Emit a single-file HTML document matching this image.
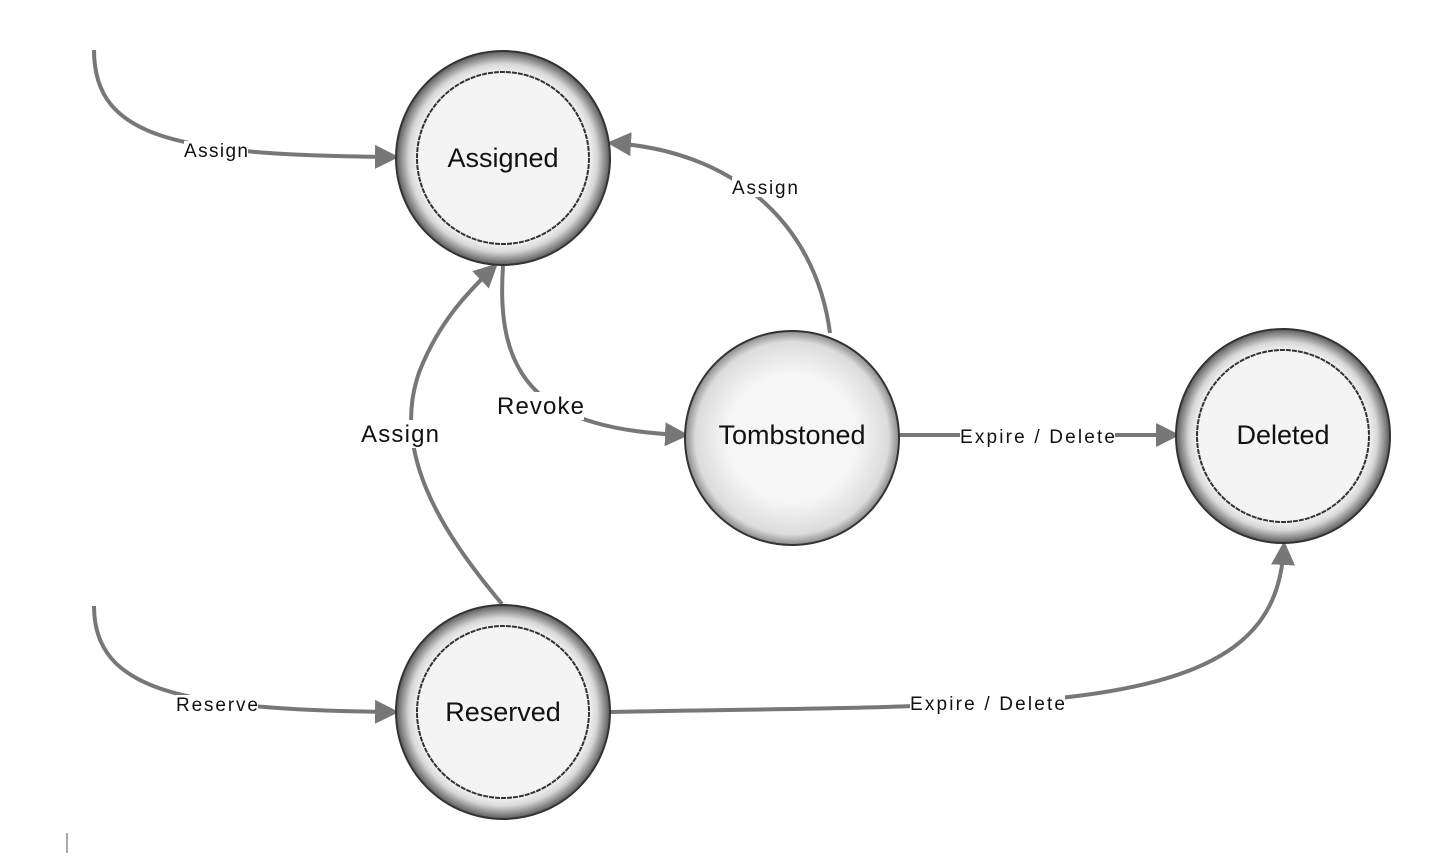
<!DOCTYPE html>
<html><head><style>
html,body{margin:0;padding:0;background:#fff;}
svg{display:block;}
text{font-family:"Liberation Sans",sans-serif;fill:#111;}
</style></head><body>
<svg width="1441" height="864" viewBox="0 0 1441 864" xmlns="http://www.w3.org/2000/svg">
<defs>
<radialGradient id="ring" cx="50%" cy="50%" r="50%">
<stop offset="0.78" stop-color="#fafafa"/>
<stop offset="0.88" stop-color="#d8d8d8"/>
<stop offset="1" stop-color="#5a5a5a"/>
</radialGradient>
<radialGradient id="ball" cx="50%" cy="50%" r="50%">
<stop offset="0.6" stop-color="#f6f6f6"/>
<stop offset="0.9" stop-color="#dcdcdc"/>
<stop offset="1" stop-color="#8a8a8a"/>
</radialGradient>
<marker id="ah" markerWidth="6" markerHeight="6" refX="5" refY="3" orient="auto" markerUnits="strokeWidth">
<path d="M0,0 L6,3 L0,6 z" fill="#777"/>
</marker>
</defs>
<g fill="none" stroke="#777" stroke-width="4">
<path d="M94,50 C94,140 180,155 395,157" marker-end="url(#ah)"/>
<path d="M94,606 C94,690 180,710 395,712" marker-end="url(#ah)"/>
<path d="M830,333 C815,220 730,150 611,143" marker-end="url(#ah)"/>
<path d="M502,604 C440,530 390,450 420,370 C440,320 470,290 495,266" marker-end="url(#ah)"/>
<path d="M503,266 C495,380 540,430 685,435" marker-end="url(#ah)"/>
<path d="M899,435 L1176,435" marker-end="url(#ah)"/>
<path d="M611,712 C800,708 900,710 1060,698 C1230,680 1280,630 1284,545" marker-end="url(#ah)"/>
</g>
<g fill="#fff">
<rect x="184" y="141" width="64" height="18"/>
<rect x="732" y="177" width="67" height="20"/>
<rect x="496" y="392" width="88" height="28"/>
<rect x="361" y="420" width="78" height="28"/>
<rect x="960" y="426" width="155" height="20"/>
<rect x="176" y="695" width="82" height="20"/>
<rect x="910" y="693" width="155" height="20"/>
</g>
<g font-size="19">
<text x="184" y="157" textLength="64" lengthAdjust="spacing">Assign</text>
<text x="732" y="194" textLength="66" lengthAdjust="spacing">Assign</text>
<text x="960" y="443" textLength="155" lengthAdjust="spacing">Expire / Delete</text>
<text x="176" y="711" textLength="82" lengthAdjust="spacing">Reserve</text>
<text x="910" y="710" textLength="155" lengthAdjust="spacing">Expire / Delete</text>
</g>
<g font-size="24">
<text x="497" y="414" textLength="87" lengthAdjust="spacing">Revoke</text>
<text x="361" y="442" textLength="78" lengthAdjust="spacing">Assign</text>
</g>
<g stroke="#333" stroke-width="2">
<circle cx="503" cy="158" r="107" fill="url(#ring)"/>
<circle cx="503" cy="158" r="86" fill="#f4f4f4" stroke-dasharray="5 1"/>
<circle cx="503" cy="712" r="107" fill="url(#ring)"/>
<circle cx="503" cy="712" r="86" fill="#f4f4f4" stroke-dasharray="5 1"/>
<circle cx="1283" cy="436" r="107" fill="url(#ring)"/>
<circle cx="1283" cy="436" r="86" fill="#f4f4f4" stroke-dasharray="5 1"/>
<circle cx="792" cy="438" r="107" fill="url(#ball)"/>
</g>
<g font-size="27" text-anchor="middle">
<text x="503" y="167">Assigned</text>
<text x="503" y="721">Reserved</text>
<text x="1283" y="444">Deleted</text>
<text x="792" y="444">Tombstoned</text>
</g>
<line x1="67" y1="833" x2="67" y2="853" stroke="#555" stroke-width="1"/>
</svg>
</body></html>
